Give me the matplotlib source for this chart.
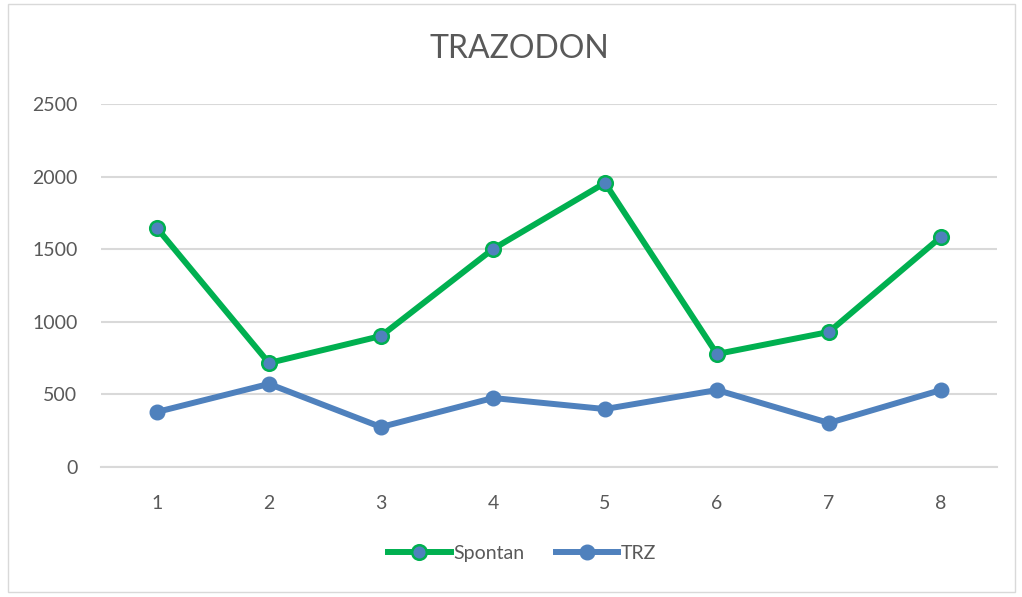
import matplotlib.pyplot as plt
import matplotlib.patches as mpatches

# chart data
categories = [1, 2, 3, 4, 5, 6, 7, 8]
spontan = [1645, 716, 902, 1501, 1956, 778, 930, 1584]
trz = [379, 572, 275, 475, 399, 530, 303, 530]
yticks = [0, 500, 1000, 1500, 2000, 2500]

green = '#00B050'
blue = '#4F81BD'
text_col = '#595959'
grid_col = '#D9D9D9'

plt.rcParams['font.family'] = ['Lato', 'DejaVu Sans']

fig = plt.figure(figsize=(10.22, 5.97), dpi=100)
ax = fig.add_axes([0.0988, 0.2178, 0.8767, 0.608])

# outer chart border
fig.patches.append(mpatches.Rectangle((0.008, 0.008), 0.985, 0.985, transform=fig.transFigure,
                                      fill=False, edgecolor='#D9D9D9', linewidth=1))

ax.plot(categories, spontan, color=green, linewidth=4.3, marker='o', markersize=10.5,
        markerfacecolor=blue, markeredgecolor=green, markeredgewidth=1.8, label='Spontan', zorder=3)
ax.plot(categories, trz, color=blue, linewidth=4.3, marker='o', markersize=10.5,
        markerfacecolor=blue, markeredgecolor=blue, label='TRZ', zorder=3)

ax.set_xlim(0.5, 8.5)
ax.set_ylim(0, 2500)
ax.set_yticks(yticks)
ax.set_xticks(categories)
ax.yaxis.grid(True, color=grid_col, linewidth=1.5)
ax.set_axisbelow(True)
for s in ['top', 'right', 'left']:
    ax.spines[s].set_visible(False)
ax.spines['bottom'].set_color(grid_col)
ax.spines['bottom'].set_linewidth(1.5)
ax.tick_params(axis='both', length=0, labelsize=14, labelcolor=text_col)
ax.tick_params(axis='y', pad=17)
ax.tick_params(axis='x', pad=20)

fig.text(0.508, 0.918, 'TRAZODON', ha='center', va='center', fontsize=23, color=text_col)

fig.legend(loc='center', bbox_to_anchor=(0.511, 0.073), ncol=2, frameon=False,
           fontsize=14, labelcolor=text_col, handlelength=3.2, columnspacing=1.6, handletextpad=0.15)

fig.savefig('out.png', dpi=100)
